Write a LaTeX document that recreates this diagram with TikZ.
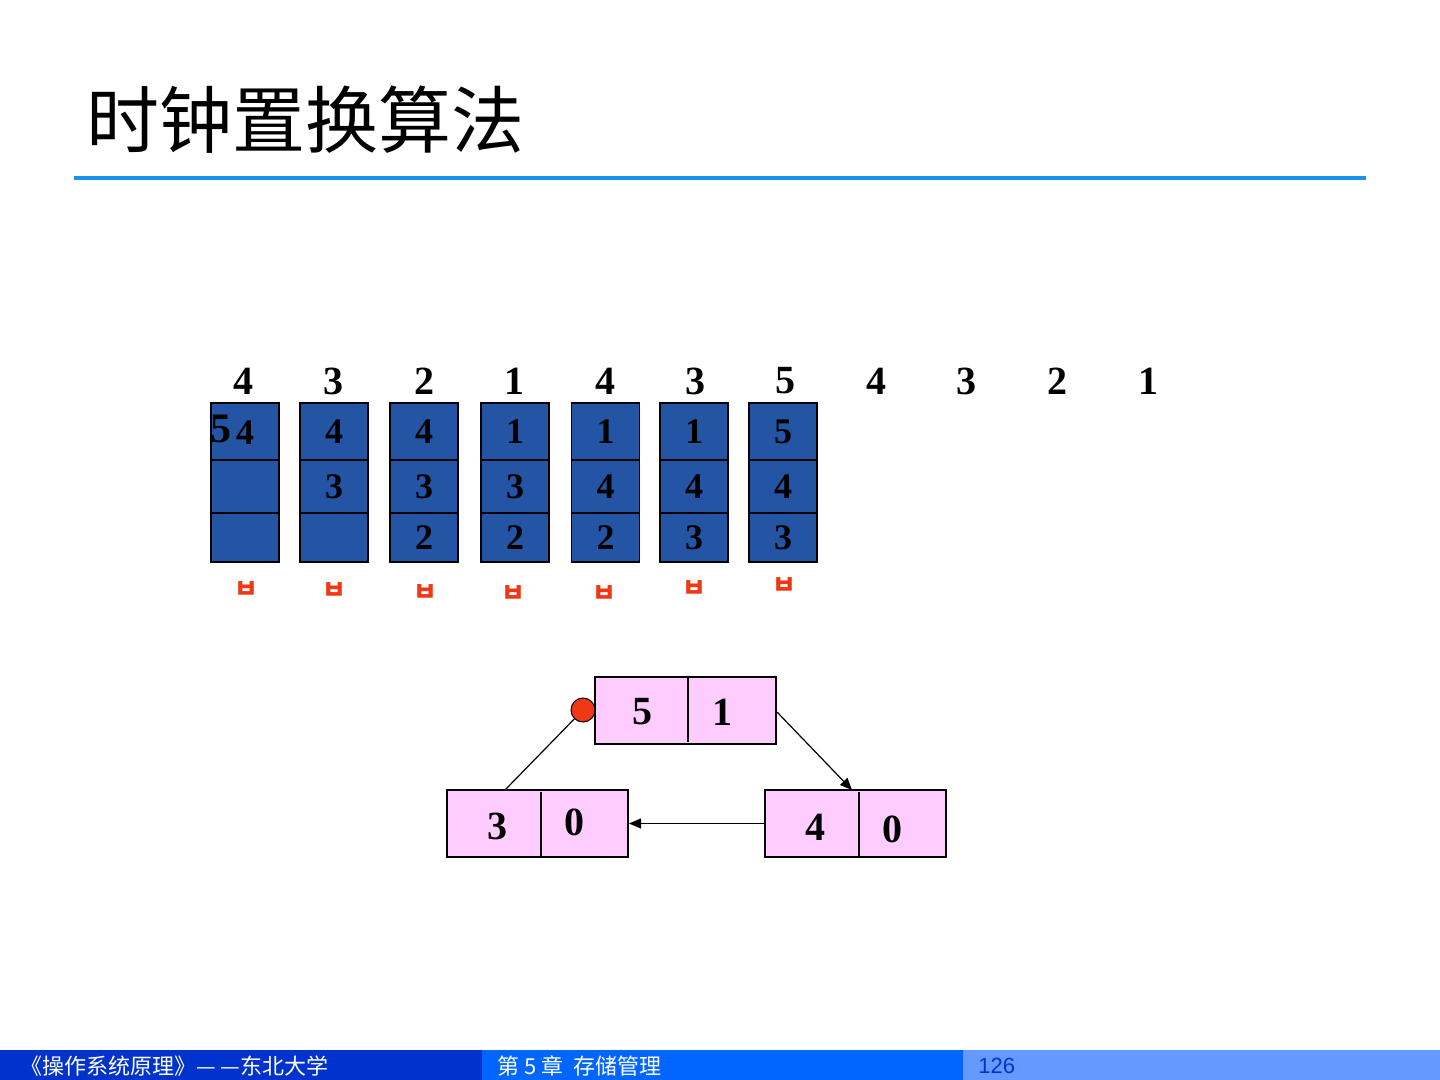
\documentclass[tikz,border=0pt]{standalone}
\usepackage{fontspec}
\setmainfont{Liberation Serif}
\newfontfamily\cjk{Noto Sans CJK SC}
\newfontfamily\kr{Noto Sans CJK KR}
\usetikzlibrary{arrows.meta}
\definecolor{cellblue}{RGB}{36,84,164}
\definecolor{rulecol}{RGB}{20,150,240}
\definecolor{clkpink}{RGB}{255,204,255}
\definecolor{dotred}{RGB}{240,56,20}
\definecolor{barA}{RGB}{0,51,204}
\definecolor{barB}{RGB}{0,102,255}
\definecolor{barC}{RGB}{102,153,255}
\tikzset{
  seqnum/.style={font=\bfseries\fontsize{20}{22}\selectfont, inner sep=0pt},
  cellbox/.style={draw=black, line width=0.6pt, fill=cellblue, minimum width=34pt, inner sep=0pt,
                  font=\bfseries\fontsize{18}{20}\selectfont},
  missmark/.style={text=dotred, font=\kr\bfseries\fontsize{13}{14}\selectfont, inner sep=0pt},
  clkbox/.style={draw=black, line width=1pt, fill=clkpink, minimum width=90.5pt, minimum height=33.5pt, inner sep=0pt},
  clknum/.style={font=\bfseries\fontsize{20}{22}\selectfont, inner sep=0pt},
  divline/.style={line width=0.6pt},
  link/.style={line width=0.6pt},
  arrowlink/.style={line width=0.6pt, -{Triangle[length=6pt,width=5pt]}},
  foottext/.style={font=\cjk\fontsize{11}{12}\selectfont, inner sep=0pt, anchor=west},
}
\begin{document}
\begin{tikzpicture}[x=0.5pt,y=-0.5pt]
\useasboundingbox (0,0) rectangle (1440,1080);
\fill[white] (0,0) rectangle (1440,1080);

% title
\node[anchor=west, inner sep=0pt, font=\cjk\fontsize{36.5}{40}\selectfont] (title) at (86,120) {时钟置换算法};
\draw[rulecol, line width=1.6pt] (74,178) -- (1366,178);

% reference string
\foreach \v/\x [count=\i] in {4/243,3/333,2/424,1/514,4/605,3/695,5/785,4/876,3/966,2/1057,1/1148}
  \node[seqnum] (s\i) at (\x,381) {\v};

% page frames: columns
\foreach \x/\a/\b/\c [count=\i] in {245/4//,334/4/3/,424/4/3/2,515/1/3/2,605.5/1/4/2,694/1/4/3,783/5/4/3}{
  \node[cellbox, minimum height=28.5pt] (c\i a) at (\x,431.5) {\a};
  \node[cellbox, minimum height=26.5pt] (c\i b) at (\x,486.5) {\b};
  \node[cellbox, minimum height=24.5pt] (c\i c) at (\x,537.5) {\c};
}
% overwritten 5 in first cell
\fill[cellblue] (212,405) rectangle (278,458);
\node[font=\bfseries\fontsize{21}{23}\selectfont, inner sep=0pt] (five) at (221,429) {5};
\node[font=\bfseries\fontsize{18}{20}\selectfont, inner sep=0pt] (four) at (245,433) {4};

% miss marks
\foreach \x/\y [count=\i] in {246/590,334/591,425/593,513/594,604/594,694/589,784/586}
  \node[missmark] (m\i) at (\x,\y) {ㅂ};

% clock
\node[clkbox] (T) at (685.5,710) {};
\node[clkbox] (L) at (537.5,823.5) {};
\node[clkbox] (R) at (855.5,823.5) {};
\draw[divline] (688,678) -- (688,742);
\draw[divline] (541,792) -- (541,856);
\draw[divline] (859,792) -- (859,856);
\node[clknum] (t1) at (642,712) {5};
\node[clknum] (t2) at (722,712) {1};
\node[clknum] (l1) at (497,826) {3};
\node[clknum] (l2) at (574,822) {0};
\node[clknum] (r1) at (815,827) {4};
\node[clknum] (r2) at (892,829) {0};

\node[circle, draw=black, line width=0.5pt, fill=dotred, minimum size=12pt, inner sep=0pt] (D) at (583,710) {};
\coordinate (Lt) at (505,790);
\coordinate (Rt) at (852,790);
\coordinate (Te) at (777,712);
\draw[link] (D) -- (Lt);
\draw[arrowlink] (Te) -- (Rt);
\draw[arrowlink] (R.west) -- (L.east);

% footer
\fill[barA] (0,1050) rectangle (482,1080);
\fill[barB] (482,1050) rectangle (963,1080);
\fill[barC] (963,1050) rectangle (1440,1080);
\node[foottext, text=white] (f1) at (20,1066) {《操作系统原理》— —东北大学};
\node[foottext, text=white] (f2) at (497,1066) {第 5 章\ \ 存储管理};
\node[foottext, text=barA, font=\fontspec{Liberation Sans}\fontsize{11}{12}\selectfont] (f3) at (978,1066) {126};
\end{tikzpicture}
\end{document}
